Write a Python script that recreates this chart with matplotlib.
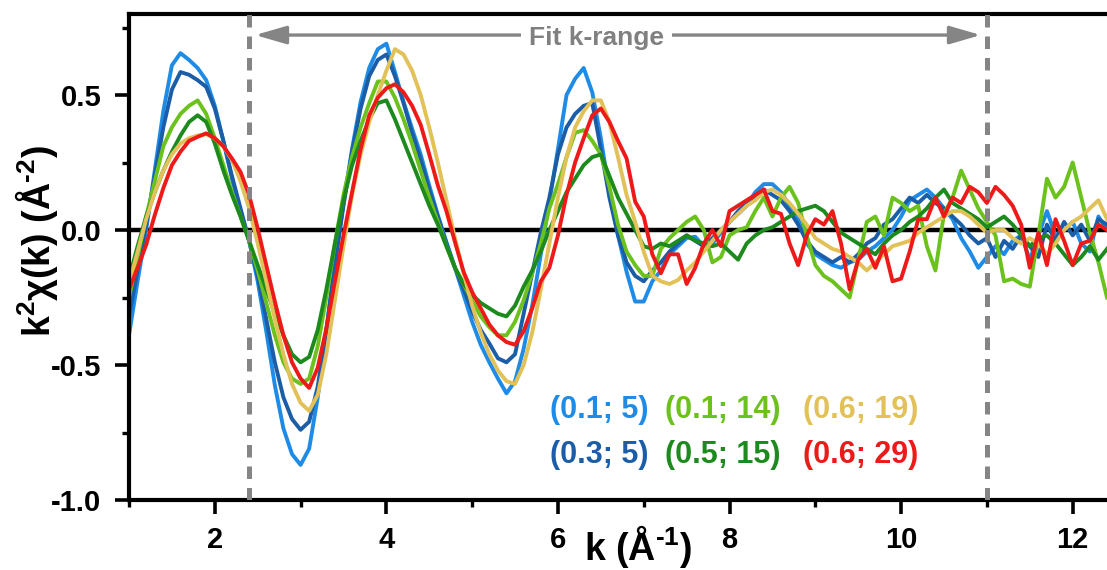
import numpy as np
import matplotlib
matplotlib.use("Agg")
import matplotlib.pyplot as plt
from matplotlib.patches import ArrowStyle
from matplotlib.ticker import MultipleLocator, FormatStrFormatter

# ---- data -----------------------------------------------------------------
k = [
    1.0, 1.1, 1.2, 1.3, 1.4, 1.5, 1.6, 1.7, 1.8, 1.9,
    2.0, 2.1, 2.2, 2.3, 2.4, 2.5, 2.6, 2.7, 2.8, 2.9,
    3.0, 3.1, 3.2, 3.3, 3.4, 3.5, 3.6, 3.7, 3.8, 3.9,
    4.0, 4.1, 4.2, 4.3, 4.4, 4.5, 4.6, 4.7, 4.8, 4.9,
    5.0, 5.1, 5.2, 5.3, 5.4, 5.5, 5.6, 5.7, 5.8, 5.9,
    6.0, 6.1, 6.2, 6.3, 6.4, 6.5, 6.6, 6.7, 6.8, 6.9,
    7.0, 7.1, 7.2, 7.3, 7.4, 7.5, 7.6, 7.7, 7.8, 7.9,
    8.0, 8.1, 8.2, 8.3, 8.4, 8.5, 8.6, 8.7, 8.8, 8.9,
    9.0, 9.1, 9.2, 9.3, 9.4, 9.5, 9.6, 9.7, 9.8, 9.9,
    10.0, 10.1, 10.2, 10.3, 10.4, 10.5, 10.6, 10.7, 10.8, 10.9,
    11.0, 11.1, 11.2, 11.3, 11.4, 11.5, 11.6, 11.7, 11.8, 11.9,
    12.0, 12.1, 12.2, 12.3, 12.4,
]

chi_01_5 = [
    -0.39, -0.19, 0.00, 0.22, 0.44, 0.61, 0.655, 0.63, 0.60, 0.555,
    0.46, 0.33, 0.19, 0.07, -0.04, -0.19, -0.375, -0.575, -0.735, -0.83,
    -0.87, -0.81, -0.62, -0.375, -0.12, 0.10, 0.30, 0.475, 0.60, 0.67,
    0.69, 0.585, 0.475, 0.375, 0.28, 0.165, 0.055, -0.045, -0.14, -0.24,
    -0.34, -0.425, -0.49, -0.55, -0.605, -0.56, -0.44, -0.28, -0.09, 0.105,
    0.30, 0.50, 0.56, 0.60, 0.51, 0.34, 0.14, -0.02, -0.155, -0.265,
    -0.265, -0.19, -0.15, -0.09, -0.06, -0.03, -0.025, -0.06, -0.05, -0.01,
    0.03, 0.06, 0.09, 0.14, 0.17, 0.17, 0.14, 0.09, 0.04, -0.05,
    -0.09, -0.11, -0.13, -0.14, -0.12, -0.11, -0.08, -0.06, -0.03, 0.00,
    0.05, 0.11, 0.13, 0.15, 0.12, 0.08, 0.04, -0.03, -0.08, -0.14,
    -0.10, -0.06, -0.09, -0.04, -0.02, -0.11, -0.02, 0.07, -0.02, 0.00,
    0.03, -0.05, -0.08, 0.05, 0.00,
]

chi_03_5 = [
    -0.32, -0.15, 0.02, 0.20, 0.38, 0.52, 0.585, 0.575, 0.555, 0.53,
    0.45, 0.33, 0.20, 0.08, -0.04, -0.17, -0.33, -0.49, -0.62, -0.70,
    -0.74, -0.71, -0.58, -0.37, -0.13, 0.09, 0.29, 0.45, 0.57, 0.63,
    0.65, 0.57, 0.47, 0.36, 0.26, 0.15, 0.05, -0.05, -0.14, -0.22,
    -0.30, -0.37, -0.42, -0.475, -0.49, -0.46, -0.31, -0.16, -0.01, 0.12,
    0.28, 0.38, 0.43, 0.46, 0.47, 0.30, 0.12, -0.02, -0.12, -0.17,
    -0.19, -0.15, -0.12, -0.08, -0.05, -0.02, -0.04, -0.06, -0.03, 0.00,
    0.03, 0.07, 0.10, 0.12, 0.15, 0.13, 0.11, 0.07, 0.02, -0.04,
    -0.08, -0.10, -0.12, -0.10, -0.12, -0.09, -0.05, -0.03, 0.02, 0.04,
    0.08, 0.12, 0.10, 0.13, 0.10, 0.08, 0.05, 0.02, -0.02, -0.05,
    -0.03, -0.10, -0.04, -0.07, -0.02, -0.06, -0.10, 0.02, -0.04, 0.03,
    -0.02, 0.02, -0.04, 0.04, 0.02,
]

chi_01_14 = [
    -0.25, -0.10, 0.05, 0.18, 0.31, 0.38, 0.43, 0.46, 0.48, 0.43,
    0.34, 0.24, 0.14, 0.05, -0.04, -0.15, -0.27, -0.39, -0.49, -0.55,
    -0.57, -0.55, -0.43, -0.25, -0.05, 0.13, 0.27, 0.38, 0.47, 0.55,
    0.55, 0.49, 0.41, 0.32, 0.22, 0.12, 0.03, -0.06, -0.14, -0.20,
    -0.26, -0.32, -0.36, -0.39, -0.39, -0.34, -0.26, -0.16, -0.05, 0.08,
    0.17, 0.27, 0.36, 0.37, 0.33, 0.28, 0.16, 0.02, -0.08, -0.13,
    -0.17, -0.17, -0.07, -0.03, 0.00, 0.03, 0.05, 0.00, -0.12, -0.10,
    -0.02, 0.00, 0.01, 0.07, 0.12, 0.05, 0.12, 0.16, 0.10, -0.02,
    -0.13, -0.17, -0.19, -0.22, -0.25, -0.11, 0.03, 0.05, -0.02, 0.12,
    0.10, 0.07, 0.09, -0.06, -0.15, 0.06, 0.12, 0.22, 0.15, 0.08,
    0.03, -0.02, -0.19, -0.18, -0.20, -0.21, -0.02, 0.19, 0.12, 0.16,
    0.25, 0.12, -0.01, -0.12, -0.25,
]

chi_05_15 = [
    -0.18, -0.06, 0.05, 0.14, 0.22, 0.29, 0.35, 0.40, 0.425, 0.40,
    0.32, 0.22, 0.13, 0.05, -0.04, -0.13, -0.22, -0.31, -0.39, -0.46,
    -0.49, -0.47, -0.37, -0.22, -0.05, 0.11, 0.24, 0.33, 0.41, 0.47,
    0.48, 0.41, 0.33, 0.25, 0.17, 0.09, 0.02, -0.06, -0.14, -0.20,
    -0.24, -0.27, -0.29, -0.31, -0.32, -0.28, -0.21, -0.15, -0.08, 0.00,
    0.07, 0.14, 0.19, 0.24, 0.27, 0.28, 0.20, 0.12, 0.06, 0.00,
    -0.06, -0.07, -0.05, -0.06, -0.04, -0.02, -0.04, -0.05, -0.06, -0.05,
    -0.08, -0.11, -0.05, -0.02, 0.00, 0.01, 0.03, 0.05, 0.07, 0.08,
    0.09, 0.07, 0.03, -0.01, -0.03, -0.05, -0.07, -0.09, -0.05, -0.02,
    0.00, 0.03, 0.05, 0.08, 0.12, 0.15, 0.10, 0.08, 0.06, 0.04,
    0.01, 0.03, 0.05, 0.02, -0.02, -0.06, -0.03, -0.02, -0.05, -0.09,
    -0.13, -0.10, -0.06, -0.11, -0.07,
]

chi_06_19 = [
    -0.20, -0.08, 0.04, 0.14, 0.22, 0.28, 0.32, 0.34, 0.35, 0.355,
    0.34, 0.31, 0.26, 0.18, 0.08, -0.05, -0.19, -0.33, -0.46, -0.57,
    -0.64, -0.67, -0.61, -0.46, -0.26, -0.06, 0.13, 0.28, 0.40, 0.50,
    0.59, 0.67, 0.65, 0.59, 0.50, 0.38, 0.25, 0.11, -0.03, -0.16,
    -0.28, -0.38, -0.46, -0.52, -0.56, -0.57, -0.50, -0.38, -0.22, -0.05,
    0.12, 0.27, 0.38, 0.44, 0.48, 0.48, 0.40, 0.27, 0.13, 0.03,
    -0.08, -0.17, -0.19, -0.20, -0.185, -0.15, -0.12, -0.08, -0.04, 0.00,
    0.03, 0.06, 0.09, 0.11, 0.14, 0.15, 0.13, 0.10, 0.06, 0.02,
    -0.03, -0.05, -0.07, -0.08, -0.10, -0.12, -0.15, -0.12, -0.09, -0.06,
    -0.05, -0.04, -0.01, 0.01, 0.03, 0.05, 0.07, 0.07, 0.05, 0.02,
    -0.01, 0.00, 0.00, -0.03, -0.05, -0.03, -0.05, -0.09, -0.05, 0.00,
    0.03, 0.05, 0.08, 0.11, 0.04,
]

chi_06_29 = [
    -0.22, -0.14, -0.055, 0.055, 0.155, 0.24, 0.29, 0.33, 0.345, 0.358,
    0.34, 0.31, 0.265, 0.215, 0.13, 0.006, -0.13, -0.265, -0.39, -0.49,
    -0.55, -0.585, -0.51, -0.365, -0.19, -0.02, 0.14, 0.30, 0.425, 0.49,
    0.525, 0.54, 0.51, 0.46, 0.39, 0.28, 0.165, 0.07, -0.045, -0.155,
    -0.23, -0.29, -0.35, -0.39, -0.415, -0.425, -0.375, -0.29, -0.19, -0.14,
    -0.02, 0.13, 0.25, 0.34, 0.425, 0.45, 0.40, 0.33, 0.265, 0.105,
    0.05, -0.09, -0.16, -0.09, -0.09, -0.20, -0.14, -0.05, 0.00, -0.06,
    0.07, 0.09, 0.11, 0.13, 0.15, 0.07, 0.06, -0.05, -0.13, -0.02,
    0.04, 0.02, 0.07, -0.05, -0.22, -0.11, -0.07, -0.14, -0.06, -0.19,
    -0.18, -0.08, 0.04, 0.04, 0.12, 0.05, 0.12, 0.10, 0.16, 0.14,
    0.10, 0.16, 0.13, 0.09, 0.02, -0.14, -0.01, -0.13, 0.04, -0.04,
    -0.13, -0.05, -0.04, 0.02, 0.00,
]

series_labels = ["(0.1; 5)", "(0.3; 5)", "(0.1; 14)", "(0.5; 15)", "(0.6; 19)", "(0.6; 29)"]
series_values = [chi_01_5, chi_03_5, chi_01_14, chi_05_15, chi_06_19, chi_06_29]
series_colors = ["#1E8CE6", "#1B5DA6", "#6CC21C", "#1D8A1D", "#E2C158", "#EE1A1A"]

fit_range = [2.4, 11.0]
x_ticks = [2, 4, 6, 8, 10, 12]
y_ticks = [-1.0, -0.5, 0.0, 0.5]

# ---- style ------------------------------------------------------------------
plt.rcParams["font.family"] = ["Liberation Sans", "DejaVu Sans"]
plt.rcParams["font.weight"] = "bold"
plt.rcParams["axes.unicode_minus"] = False
plt.rcParams["mathtext.fontset"] = "custom"
plt.rcParams["mathtext.rm"] = "Liberation Sans:bold"
plt.rcParams["mathtext.bf"] = "Liberation Sans:bold"
plt.rcParams["mathtext.it"] = "Liberation Sans:bold"
plt.rcParams["mathtext.sf"] = "Liberation Sans:bold"
plt.rcParams["mathtext.default"] = "rm"

W, H = 1107, 570
fig = plt.figure(figsize=(W / 100, H / 100), dpi=100)
ax = fig.add_axes([129 / W, 70 / H, (W - 129) / W, 486 / H])

ax.set_xlim(1.0, 12.4)
ax.set_ylim(-1.0, 0.8)

ax.axhline(0, color="black", lw=3.2, zorder=1)

for vals, col in zip(series_values, series_colors):
    ax.plot(k, vals, color=col, lw=2.8, solid_joinstyle="round", zorder=2)

for xv in fit_range:
    ax.axvline(xv, color="#858585", lw=3.6, dashes=(2.5, 1.8), zorder=3)

# fit-range arrow with its caption
ax.annotate("", xy=(fit_range[0] + 0.07, 0.722), xytext=(fit_range[1] - 0.07, 0.722),
            arrowprops=dict(arrowstyle=ArrowStyle("<|-|>", head_length=19, head_width=5.5),
                            mutation_scale=1, color="#858585", lw=2.4,
                            shrinkA=0, shrinkB=0), zorder=4)
ax.text(6.45, 0.686, "Fit k-range", color="#808080", fontsize=19, fontweight="bold",
        ha="center", va="baseline", zorder=5,
        bbox=dict(boxstyle="square,pad=0.3", fc="white", ec="none"))

# colour-coded series names
cols_x = [550, 665, 803]
rows_y = [418, 463]
order = [[0, 2, 4], [1, 3, 5]]
for r, row in enumerate(order):
    for c, idx in enumerate(row):
        ax.text((cols_x[c] - 129) / (W - 129), (500 - rows_y[r]) / 486, series_labels[idx],
                transform=ax.transAxes, color=series_colors[idx], fontsize=22,
                fontweight="bold", ha="left", va="baseline", zorder=6)

# axes frame and ticks
for side in ("left", "bottom", "top"):
    ax.spines[side].set_linewidth(3.0)
ax.spines["right"].set_visible(False)

ax.set_xticks(x_ticks)
ax.set_yticks(y_ticks)
ax.xaxis.set_minor_locator(MultipleLocator(1.0))
ax.yaxis.set_minor_locator(MultipleLocator(0.25))
ax.yaxis.set_major_formatter(FormatStrFormatter("%.1f"))
ax.tick_params(which="major", direction="out", length=10, width=2.6, labelsize=21)
ax.tick_params(which="minor", direction="out", length=5, width=2.4)
ax.tick_params(axis="x", which="major", pad=9)
ax.tick_params(axis="y", which="major", pad=10)
ax.tick_params(top=False, right=False, which="both")
for lab in ax.get_xticklabels() + ax.get_yticklabels():
    lab.set_fontweight("bold")

fig.text(638 / W, 10 / H, r"k (Å$^{\text{-}1}$)", ha="center", va="baseline", fontsize=27,
         fontweight="bold")
fig.text(37 / W, 1 - 241 / H, r"k$^{2}$χ(k) (Å$^{\text{-}2}$)", rotation=90, ha="center",
         va="center", fontsize=27, fontweight="bold")

fig.savefig("out.png", dpi=100)
